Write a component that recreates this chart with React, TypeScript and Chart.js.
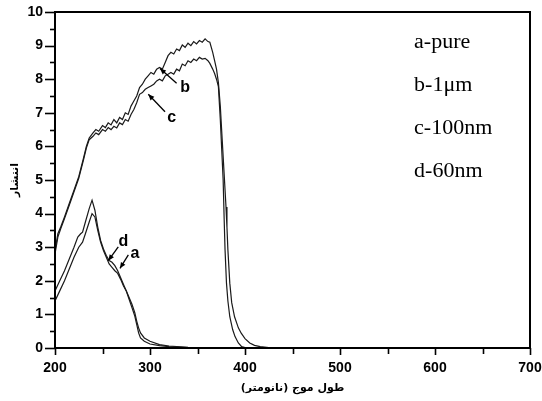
import { useEffect, useRef } from 'react';
import { Chart, registerables } from 'chart.js';

Chart.register(...registerables);

// ---------- data ----------
const wlB = [200,203,206,210,215,220,225,230,233,236,240,243,246,250,253,256,259,262,265,268,271,274,277,280,283,286,289,292,295,298,301,304,307,310,313,316,319,322,325,328,331,334,337,340,343,346,349,352,355,358,361,363,366,368,370,372,374,376,378,380,381,382,384,386,389,393,396,400,405,410,416,425,440,700];
const valB = [2.9,3.4,3.6,3.9,4.3,4.7,5.1,5.65,6.0,6.25,6.4,6.5,6.45,6.62,6.56,6.7,6.64,6.8,6.7,6.86,6.8,7.0,6.95,7.2,7.35,7.5,7.75,7.85,8.0,8.1,8.2,8.15,8.3,8.35,8.3,8.5,8.7,8.8,8.75,8.9,8.85,9.02,8.95,9.07,9.0,9.12,9.05,9.15,9.1,9.2,9.12,9.1,8.8,8.55,8.3,7.9,7.2,6.2,5.2,4.2,3.6,2.92,1.93,1.35,0.93,0.6,0.44,0.28,0.15,0.08,0.04,0.01,0,0];

const wlC = [200,203,206,210,215,220,225,230,233,236,240,243,246,250,253,256,259,262,265,268,271,274,277,280,283,286,289,292,295,298,301,304,307,310,313,316,319,322,325,328,331,334,337,340,343,346,349,352,355,358,361,363,366,368,370,372,374,375.5,377,378,379,380.5,382,384,387,389.5,393,396.5,400,410,700];
const valC = [2.8,3.3,3.55,3.85,4.25,4.65,5.05,5.6,5.95,6.2,6.3,6.4,6.35,6.5,6.45,6.56,6.5,6.6,6.55,6.7,6.65,6.8,6.75,6.95,7.1,7.3,7.55,7.6,7.7,7.75,7.8,7.85,7.95,8.0,7.95,8.1,8.15,8.2,8.15,8.3,8.25,8.45,8.4,8.55,8.5,8.6,8.55,8.65,8.6,8.62,8.55,8.47,8.3,8.17,8.0,7.78,6.8,5.9,5.0,3.9,2.92,1.93,1.4,0.93,0.55,0.34,0.15,0.04,0.01,0,0];

const wlD = [200,205,210,215,220,224,227,229,232,236,239,242,245,248,251,254,257,260,263,266,269,272,275,278,281,284,286,288,290,294,300,310,320,340,360,700];
const valD = [1.7,2.0,2.3,2.65,3.0,3.3,3.4,3.45,3.75,4.15,4.4,4.1,3.6,3.2,2.95,2.75,2.6,2.55,2.45,2.3,2.1,1.9,1.7,1.45,1.2,0.95,0.7,0.45,0.3,0.2,0.12,0.07,0.04,0.01,0,0];

const wlA = [200,205,210,215,220,225,229,232,236,239,242,245,248,251,254,257,260,263,266,269,272,275,278,281,284,286,288,290,294,300,310,320,340,360,700];
const valA = [1.4,1.7,2.0,2.35,2.7,3.0,3.15,3.4,3.75,4.0,3.9,3.5,3.15,2.9,2.7,2.5,2.4,2.3,2.22,2.05,1.85,1.7,1.5,1.3,1.05,0.8,0.6,0.45,0.3,0.2,0.1,0.06,0.02,0,0];

const legendLines = ['a-pure', 'b-1\u03BCm', 'c-100nm', 'd-60nm'];
const xTitle = 'طول موج (نانومتر)';
const yTitle = 'انتشار';

// curve labels with arrows, in data coordinates
const curveLabels = [
  { text: 'b', tx: 337, ty: 7.74, x1: 328, y1: 7.88, x2: 310.5, y2: 8.32 },
  { text: 'c', tx: 322.8, ty: 6.85, x1: 315.8, y1: 7.03, x2: 298.2, y2: 7.55 },
  { text: 'd', tx: 271.9, ty: 3.16, x1: 266.6, y1: 3.01, x2: 256.1, y2: 2.6 },
  { text: 'a', tx: 284.2, ty: 2.8, x1: 277.2, y1: 2.77, x2: 268.4, y2: 2.37 },
];

const toPts = (xs: number[], ys: number[]) => xs.map((x, i) => ({ x, y: ys[i] }));

const decorPlugin = {
  id: 'decor',
  afterDraw(chart: any) {
    const { ctx, chartArea: ca, scales } = chart;
    const x = scales.x;
    const y = scales.y;
    ctx.save();
    ctx.strokeStyle = '#000';
    ctx.fillStyle = '#000';
    ctx.lineWidth = 2;
    ctx.strokeRect(ca.left, ca.top, ca.right - ca.left, ca.bottom - ca.top);

    // y ticks (major every 1, minor every 0.5)
    ctx.lineWidth = 1.6;
    for (let i = 0; i <= 20; i++) {
      const v = i * 0.5;
      const py = Math.round(y.getPixelForValue(v)) + 0.5;
      const len = i % 2 === 0 ? 10 : 5;
      ctx.beginPath();
      ctx.moveTo(ca.left, py);
      ctx.lineTo(ca.left - len, py);
      ctx.stroke();
    }
    // x ticks (major every 100, minor every 50)
    for (let i = 0; i <= 10; i++) {
      const v = 200 + i * 50;
      const px = Math.round(x.getPixelForValue(v)) + 0.5;
      const len = i % 2 === 0 ? 7 : 6;
      ctx.beginPath();
      ctx.moveTo(px, ca.bottom);
      ctx.lineTo(px, ca.bottom + len);
      ctx.stroke();
    }

    // legend text
    ctx.font = '20px "Liberation Serif", "Times New Roman", serif';
    ctx.textAlign = 'left';
    ctx.textBaseline = 'middle';
    const legY = [9.08, 7.8, 6.52, 5.24];
    legendLines.forEach((t, i) => {
      const px = x.getPixelForValue(578);
      const py = y.getPixelForValue(legY[i]);
      ctx.save();
      ctx.translate(px, py);
      ctx.scale(1.1, 1);
      ctx.fillText(t, 0, 0);
      ctx.restore();
    });

    // curve labels + arrows
    ctx.font = 'bold 16px "Liberation Sans", Arial, sans-serif';
    ctx.textAlign = 'center';
    ctx.textBaseline = 'middle';
    ctx.lineWidth = 1.3;
    curveLabels.forEach((c) => {
      const lx = x.getPixelForValue(c.tx);
      const ly = y.getPixelForValue(c.ty);
      ctx.fillText(c.text, lx, ly);
      const ax1 = x.getPixelForValue(c.x1);
      const ay1 = y.getPixelForValue(c.y1);
      const ax2 = x.getPixelForValue(c.x2);
      const ay2 = y.getPixelForValue(c.y2);
      ctx.beginPath();
      ctx.moveTo(ax1, ay1);
      ctx.lineTo(ax2, ay2);
      ctx.stroke();
      const ang = Math.atan2(ay2 - ay1, ax2 - ax1);
      const hl = 6;
      const hw = 2.6;
      ctx.beginPath();
      ctx.moveTo(ax2, ay2);
      ctx.lineTo(ax2 - hl * Math.cos(ang) + hw * Math.sin(ang), ay2 - hl * Math.sin(ang) - hw * Math.cos(ang));
      ctx.lineTo(ax2 - hl * Math.cos(ang) - hw * Math.sin(ang), ay2 - hl * Math.sin(ang) + hw * Math.cos(ang));
      ctx.closePath();
      ctx.fill();
    });
    ctx.restore();
  },
};

export default function App() {
  const ref = useRef<HTMLCanvasElement | null>(null);

  useEffect(() => {
    if (!ref.current) return;
    const lineStyle = {
      borderColor: '#1a1a1a',
      borderWidth: 1.2,
      pointRadius: 0,
      tension: 0,
      fill: false,
    };
    const chart = new Chart(ref.current, {
      type: 'line',
      data: {
        datasets: [
          { label: 'a', data: toPts(wlA, valA), ...lineStyle },
          { label: 'b', data: toPts(wlB, valB), ...lineStyle },
          { label: 'c', data: toPts(wlC, valC), ...lineStyle },
          { label: 'd', data: toPts(wlD, valD), ...lineStyle },
        ],
      },
      options: {
        responsive: false,
        animation: false,
        layout: { padding: { top: 12, right: 12, left: 0, bottom: 0 } },
        plugins: { legend: { display: false }, tooltip: { enabled: false } },
        scales: {
          x: {
            type: 'linear',
            min: 200,
            max: 700,
            ticks: {
              stepSize: 100,
              padding: 5,
              color: '#000',
              maxRotation: 0,
              font: { family: '"Liberation Sans", Arial, sans-serif', weight: 'bold', size: 14 },
            },
            grid: { display: false, drawTicks: true, tickLength: 7 },
            border: { display: true, color: '#000', width: 2 },
            title: {
              display: true,
              text: xTitle,
              color: '#000',
              font: { family: '"DejaVu Sans", sans-serif', weight: 'bold', size: 11 },
              padding: { top: 4, bottom: 6 },
            },
            afterFit: (s: any) => { s.height = 53; s.paddingRight = 0; s.paddingLeft = 0; },
          },
          y: {
            type: 'linear',
            min: 0,
            max: 10,
            ticks: {
              stepSize: 1,
              padding: 2,
              color: '#000',
              font: { family: '"Liberation Sans", Arial, sans-serif', weight: 'bold', size: 14 },
            },
            grid: { display: false, drawTicks: true, tickLength: 10 },
            border: { display: true, color: '#000', width: 2 },
            title: {
              display: true,
              text: yTitle,
              color: '#000',
              font: { family: '"DejaVu Sans", sans-serif', weight: 'bold', size: 11 },
              padding: { top: 9, bottom: 0 },
            },
            afterFit: (s: any) => { s.width = 55; s.paddingTop = 0; s.paddingBottom = 0; },
          },
        },
      },
      plugins: [decorPlugin],
    });
    return () => chart.destroy();
  }, []);

  return (
    <div style={{ position: 'absolute', left: 0, top: 0, width: 542, height: 401, background: '#fff' }}>
      <canvas ref={ref} width={542} height={401} style={{ display: 'block' }} />
    </div>
  );
}
